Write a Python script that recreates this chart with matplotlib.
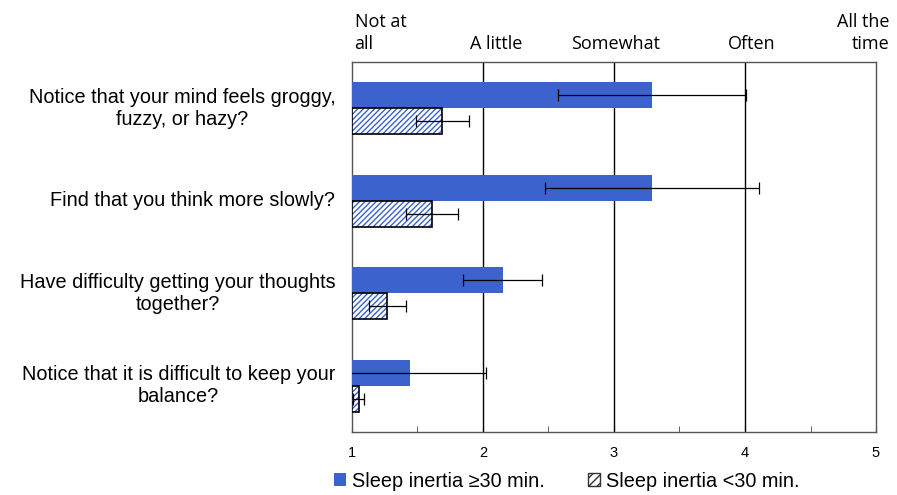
import matplotlib.pyplot as plt
import numpy as np
from matplotlib.patches import Patch

questions = [
    "Notice that your mind feels groggy,\nfuzzy, or hazy?",
    "Find that you think more slowly?",
    "Have difficulty getting your thoughts\ntogether?",
    "Notice that it is difficult to keep your\nbalance?",
]
long_inertia = [3.29, 3.29, 2.15, 1.44]
long_err = [0.72, 0.82, 0.30, 0.58]
short_inertia = [1.69, 1.61, 1.27, 1.05]
short_err = [0.20, 0.20, 0.14, 0.04]

scale_labels = ["Not at\nall", "A little", "Somewhat", "Often", "All the\ntime"]
x_ticks = [1, 2, 3, 4, 5]

blue = '#3C62CD'
bar_h = 0.28

fig = plt.figure(figsize=(8.97, 4.95), dpi=100)
ax = fig.add_axes([0.3924, 0.1273, 0.5842, 0.7474])

n = len(questions)
y = np.arange(n)[::-1] + 0.5
base = 1

ax.barh(y + bar_h / 2, np.array(long_inertia) - base, left=base, height=bar_h,
        color=blue, edgecolor='none', zorder=3)
ax.errorbar(long_inertia, y + bar_h / 2, xerr=long_err, fmt='none', ecolor='black',
            elinewidth=0.9, capsize=4, capthick=0.9, zorder=4)

# hatched bars: blue hatch, then black outline on top
plt.rcParams['hatch.linewidth'] = 1.0
ax.barh(y - bar_h / 2, np.array(short_inertia) - base, left=base, height=bar_h,
        facecolor='white', edgecolor=blue, hatch='//////', linewidth=0, zorder=3)
ax.barh(y - bar_h / 2, np.array(short_inertia) - base, left=base, height=bar_h,
        fill=False, edgecolor='black', linewidth=1.2, zorder=3.5)
ax.errorbar(short_inertia, y - bar_h / 2, xerr=short_err, fmt='none', ecolor='black',
            elinewidth=0.9, capsize=4, capthick=0.9, zorder=4)

ax.set_xlim(1, 5)
ax.set_ylim(0, n)
ax.set_xticks(x_ticks)
ax.set_xticklabels([str(t) for t in x_ticks], fontsize=10.5, family='Liberation Sans')
ax.set_xticks([1.5, 2.5, 3.5, 4.5], minor=True)
ax.tick_params(axis='x', which='both', direction='in', length=4, pad=10, color='#444444')
ax.set_yticks(y)
ax.set_yticklabels(questions, fontsize=14.3, family='Liberation Sans', ha='right',
                   multialignment='center', va='center')
ax.tick_params(axis='y', length=0, pad=12)
for t in [2, 3, 4]:
    ax.axvline(t, color='black', linewidth=1.0, zorder=2)
for s in ax.spines.values():
    s.set_color('#555555')
    s.set_linewidth(1.0)

# frequency scale labels above the plot
top_y = 1.025
ax.text(1.02, top_y, scale_labels[0], transform=ax.get_xaxis_transform(), ha='left',
        va='bottom', fontsize=13, family='Open Sans', linespacing=1.25)
for xv, lab in zip([2.1, 3.01, 4.05], scale_labels[1:4]):
    ax.text(xv, top_y, lab, transform=ax.get_xaxis_transform(), ha='center',
            va='bottom', fontsize=13, family='Open Sans')
ax.text(5.1, top_y, scale_labels[4], transform=ax.get_xaxis_transform(), ha='right',
        va='bottom', fontsize=13, family='Open Sans', linespacing=1.25, multialignment='right')

handles = [Patch(facecolor=blue, edgecolor='none'),
           Patch(facecolor='white', edgecolor='#333333', hatch='////')]
fig.legend(handles, ["Sleep inertia \u226530 min.", "Sleep inertia <30 min."],
           loc='center', bbox_to_anchor=(0.632, 0.028), ncol=2, frameon=False,
           prop={'family': 'Liberation Sans', 'size': 14.3}, handlelength=0.6,
           handleheight=0.6, handletextpad=0.3, columnspacing=2.2)

fig.savefig('out.png', dpi=100)
